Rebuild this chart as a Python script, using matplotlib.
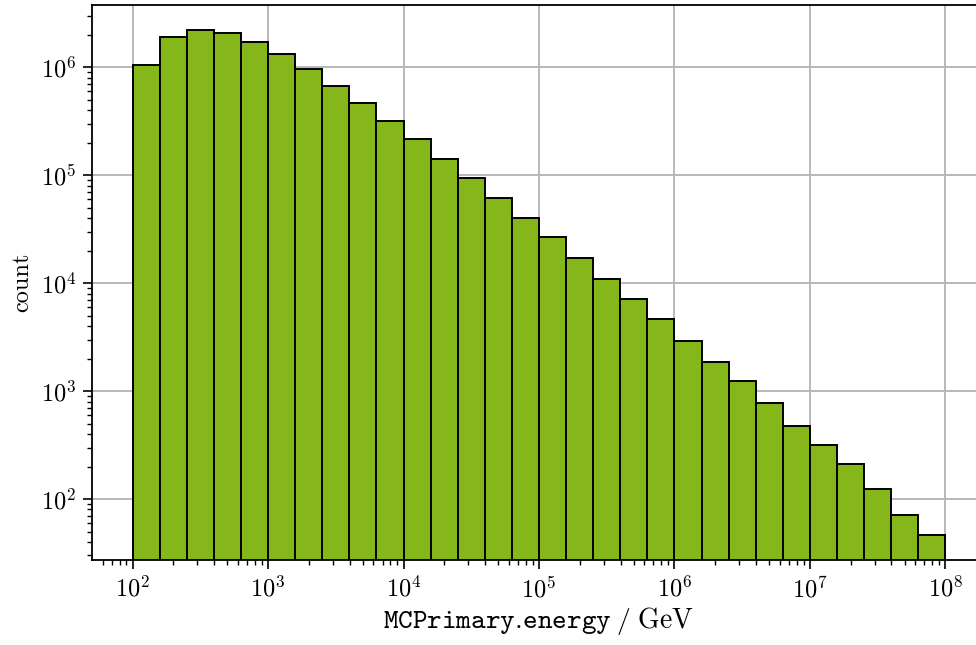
import numpy as np
import matplotlib
matplotlib.use("Agg")
import matplotlib.pyplot as plt
from matplotlib.ticker import LogLocator, NullFormatter

plt.rcParams['font.family'] = ['cmr10', 'DejaVu Serif']
plt.rcParams['mathtext.fontset'] = 'cm'
plt.rcParams['axes.formatter.use_mathtext'] = True
plt.rcParams['font.size'] = 17.5

# Histogram of primary energies: 5 log bins per decade, 1e2 .. 1e8 GeV
bin_edges = np.logspace(2, 8, 31)
counts = [
    1.05e6, 1.93e6, 2.22e6, 2.08e6, 1.72e6, 1.32e6, 9.6e5, 6.76e5, 4.65e5, 3.20e5,
    2.16e5, 1.43e5, 9.38e4, 6.20e4, 4.05e4, 2.68e4, 1.72e4, 1.10e4, 7.10e3, 4.63e3,
    2.93e3, 1.86e3, 1.25e3, 771, 475, 315, 212, 123, 71, 46,
]
xticks = [1e2, 1e3, 1e4, 1e5, 1e6, 1e7, 1e8]
yticks = [1e2, 1e3, 1e4, 1e5, 1e6]

fig = plt.figure(figsize=(9.76, 6.45), dpi=100)
ax = fig.add_axes([92 / 976, 85 / 645, 894 / 976, 555 / 645])

ax.bar(bin_edges[:-1], counts, width=np.diff(bin_edges), align='edge',
       color='#85b71a', edgecolor='black', linewidth=1.4, zorder=2)

ax.set_xscale('log')
ax.set_yscale('log')
ax.set_xlim(10**1.7, 10**8.3)
ax.set_ylim(10**1.435, 10**6.578)
ax.set_xticks(xticks)
ax.set_yticks(yticks)

for axis in (ax.xaxis, ax.yaxis):
    axis.set_minor_locator(LogLocator(base=10, subs=np.arange(2, 10), numticks=20))
    axis.set_minor_formatter(NullFormatter())

ax.grid(True, which='major', color='#b8b8b8', linewidth=1.4, zorder=0)
ax.set_axisbelow(True)

ax.tick_params(which='major', direction='out', length=6.5, width=1.2, pad=5)
ax.tick_params(which='minor', direction='out', length=3.6, width=1.0)
for s in ax.spines.values():
    s.set_linewidth(1.3)

# mathtext pads "." with a thin space; \! pulls it back
ax.set_xlabel(r'$\mathtt{MCPrimary.\!energy}\;/\;\mathrm{GeV}$', fontsize=20, labelpad=2)
ax.set_ylabel('count', labelpad=5)

fig.savefig('out.png', dpi=100)
